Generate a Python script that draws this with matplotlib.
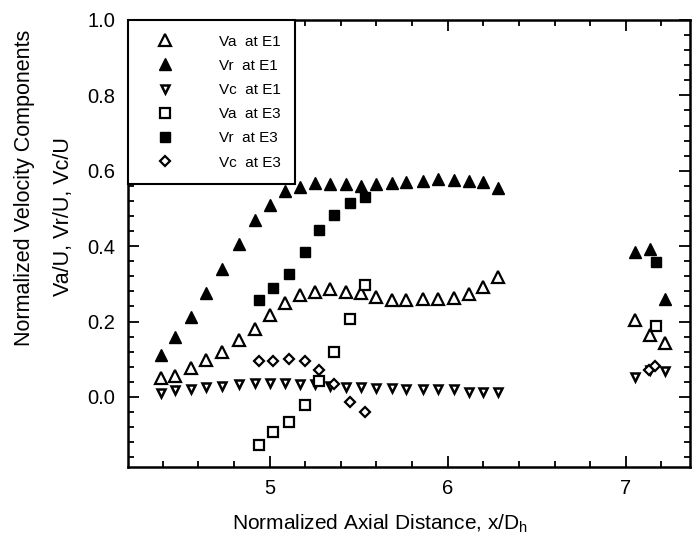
import matplotlib
matplotlib.use("Agg")
import matplotlib.pyplot as plt
from matplotlib.ticker import MultipleLocator

plt.rcParams['font.family'] = ['Liberation Sans', 'DejaVu Sans']

# ---- data ----
x_e1 = [4.388, 4.47, 4.56, 4.645, 4.735, 4.826, 4.916, 5.0, 5.084, 5.168, 5.256, 5.34,
        5.43, 5.514, 5.60, 5.687, 5.766, 5.859, 5.947, 6.033, 6.117, 6.199, 6.283,
        7.054, 7.138, 7.222]
va_e1 = [0.050, 0.056, 0.076, 0.098, 0.120, 0.151, 0.180, 0.216, 0.248, 0.270, 0.279, 0.286,
         0.277, 0.275, 0.266, 0.258, 0.257, 0.259, 0.261, 0.262, 0.272, 0.292, 0.317,
         0.204, 0.164, 0.144]
vr_e1 = [0.111, 0.160, 0.211, 0.276, 0.340, 0.405, 0.469, 0.509, 0.545, 0.558, 0.568, 0.564,
         0.564, 0.560, 0.564, 0.568, 0.571, 0.574, 0.577, 0.576, 0.573, 0.569, 0.555,
         0.385, 0.392, 0.259]
vc_e1 = [0.010, 0.018, 0.022, 0.025, 0.029, 0.035, 0.037, 0.038, 0.038, 0.034, 0.034, 0.028,
         0.025, 0.025, 0.023, 0.023, 0.021, 0.020, 0.020, 0.020, 0.014, 0.012, 0.012,
         0.054, 0.072, 0.070]

x_e3 = [4.94, 5.02, 5.108, 5.196, 5.28, 5.364, 5.45, 5.535, 7.17]
va_e3 = [-0.127, -0.092, -0.066, -0.021, 0.043, 0.120, 0.206, 0.297, 0.187]
vr_e3 = [0.256, 0.290, 0.326, 0.385, 0.443, 0.483, 0.515, 0.531, 0.359]
x_vc_e3 = [4.94, 5.02, 5.108, 5.196, 5.28, 5.364, 5.45, 5.535, 7.13, 7.165]
vc_e3 = [0.094, 0.094, 0.101, 0.096, 0.072, 0.034, -0.013, -0.041, 0.072, 0.082]

labels = ["Va  at E1", "Vr  at E1", "Vc  at E1", "Va  at E3", "Vr  at E3", "Vc  at E3"]
xticks = [5, 6, 7]
yticks = [0.0, 0.2, 0.4, 0.6, 0.8, 1.0]

fig = plt.figure(figsize=(6.96, 5.48), dpi=100)
ax = fig.add_axes([128/696, 1-467/548, (690-128)/696, (467-20)/548])

k = dict(linestyle='none', color='black')
ax.plot(x_e1, va_e1, marker='^', markersize=8.5, markerfacecolor='white', markeredgewidth=1.6, label=labels[0], **k)
ax.plot(x_e1, vr_e1, marker='^', markersize=8.5, markerfacecolor='black', label=labels[1], **k)
ax.plot(x_e1, vc_e1, marker='v', markersize=6, markerfacecolor='white', markeredgewidth=1.8, label=labels[2], **k)
ax.plot(x_e3, va_e3, marker='s', markersize=7.5, markerfacecolor='white', markeredgewidth=1.6, label=labels[3], **k)
ax.plot(x_e3, vr_e3, marker='s', markersize=7.5, markerfacecolor='black', label=labels[4], **k)
ax.plot(x_vc_e3, vc_e3, marker='D', markersize=5.5, markerfacecolor='white', markeredgewidth=1.6, label=labels[5], **k)

ax.set_xlim(4.205, 7.36)
ax.set_ylim(-0.186, 1.0)
ax.set_xticks(xticks)
ax.set_yticks(yticks)
ax.set_yticklabels([f"{v:.1f}" for v in yticks])
ax.xaxis.set_minor_locator(MultipleLocator(0.2))
ax.yaxis.set_minor_locator(MultipleLocator(0.04))
ax.tick_params(which='both', direction='in', top=True, right=True, labelsize=14.5, width=1.3)
ax.tick_params(which='major', length=8, pad=9)
ax.tick_params(which='minor', length=4)
for s in ax.spines.values():
    s.set_linewidth(1.8)

ax.set_xlabel("Normalized Axial Distance, x/D$_\\mathregular{h}$", fontsize=15, labelpad=10)
ax.xaxis.label.set_x((380 - 128) / 562)
fig.text(25/696, 1-188/548, "Normalized Velocity Components", rotation=90, fontsize=15.5,
         ha='center', va='center')
fig.text(64/696, 1-217/548, "Va/U, Vr/U, Vc/U", rotation=90, fontsize=15.5,
         ha='center', va='center')

leg = ax.legend(loc='upper left', borderaxespad=0, fontsize=11, fancybox=False,
                edgecolor='black', framealpha=1, handletextpad=2.0, handlelength=3.0,
                borderpad=0.95, labelspacing=0.67)
leg.get_frame().set_linewidth(1.5)

fig.savefig("out.png", dpi=100)
